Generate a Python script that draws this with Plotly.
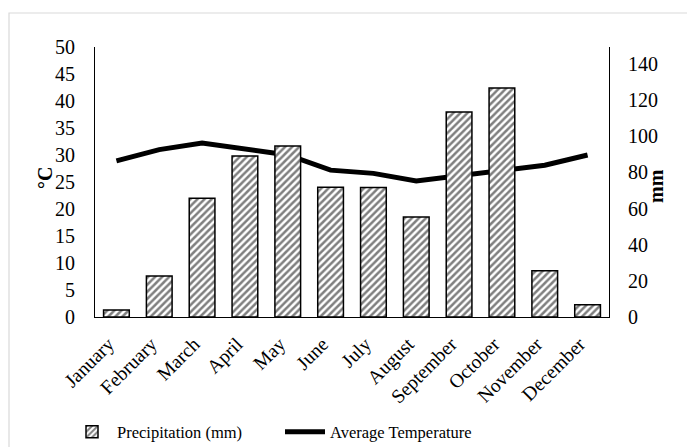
import plotly.graph_objects as go

months = ["January", "February", "March", "April", "May", "June", "July",
          "August", "September", "October", "November", "December"]
precip_mm = [3.9, 22.7, 65.7, 89.1, 94.6, 71.8, 71.6, 55.3, 113.4, 126.7, 25.6, 6.8]
temp_c = [28.9, 31.0, 32.2, 31.2, 30.0, 27.2, 26.6, 25.2, 26.1, 27.1, 28.1, 30.0]
left_ticks = list(range(0, 51, 5))
right_ticks = list(range(0, 141, 20))

FONT = "Liberation Serif, Times New Roman, serif"

fig = go.Figure()
fig.add_trace(go.Bar(
    x=months, y=precip_mm, name="Precipitation (mm)", yaxis="y2",
    width=0.6,
    marker=dict(color="white", line=dict(color="black", width=1.5),
                pattern=dict(shape="/", fgcolor="black", bgcolor="white",
                             size=5, solidity=0.5)),
))
fig.add_trace(go.Scatter(
    x=months, y=temp_c, name="Average Temperature", mode="lines",
    line=dict(color="black", width=5), yaxis="y",
))

L, R, T, B = 95, 78, 47, 130
W, H = 687, 447
pw, ph = W - L - R, H - T - B

fig.update_layout(
    width=W, height=H,
    margin=dict(l=L, r=R, t=T, b=B, autoexpand=False),
    paper_bgcolor="white", plot_bgcolor="white",
    font=dict(family=FONT, size=17, color="black"),
    showlegend=True,
    legend=dict(orientation="h", xref="container", yref="container",
                x=67 / W, xanchor="left",
                y=1 - 432 / H, yanchor="middle",
                font=dict(family=FONT, size=16.5), traceorder="normal",
                itemwidth=40, entrywidth=158, bgcolor="rgba(0,0,0,0)"),
    xaxis=dict(showline=True, linecolor="black", linewidth=1.2,
               tickangle=-45, ticks="", showgrid=False, automargin=False,
               ticklabelshift=-8, ticklabelstandoff=7,
               tickfont=dict(size=19.5)),
    yaxis=dict(range=[0, 50], tickvals=left_ticks, showgrid=False,
               showline=True, linecolor="black", linewidth=1.2,
               ticks="outside", ticklen=15, tickcolor="rgba(0,0,0,0)",
               tickfont=dict(size=20), zeroline=False, automargin=False),
    yaxis2=dict(range=[0, 149.4], tickvals=right_ticks, overlaying="y",
                side="right", showgrid=False,
                showline=True, linecolor="black", linewidth=1.2,
                ticks="outside", ticklen=14, tickcolor="rgba(0,0,0,0)",
                tickfont=dict(size=20), zeroline=False, automargin=False),
    annotations=[
        dict(text="<b>°C</b>", xref="paper", yref="paper",
             x=(32 - L) / pw, y=(H - B - 178) / ph, textangle=-90,
             showarrow=False, font=dict(size=20)),
        dict(text="<b>mm</b>", xref="paper", yref="paper",
             x=(669 - L) / pw, y=(H - B - 186) / ph, textangle=-90,
             showarrow=False, font=dict(size=20)),
    ],
    shapes=[dict(type="rect", xref="paper", yref="paper",
                 x0=(9 - L) / pw, x1=(W + 3 - L) / pw,
                 y0=-(H + 3 - (H - B)) / ph, y1=1 + (T - 13) / ph,
                 line=dict(color="#d9d9d9", width=1.2), layer="below")],
)

fig.write_html("out.html",
               config={"displayModeBar": False},
               post_script="document.body.style.margin='0';"
                           "document.body.style.overflow='hidden';")
